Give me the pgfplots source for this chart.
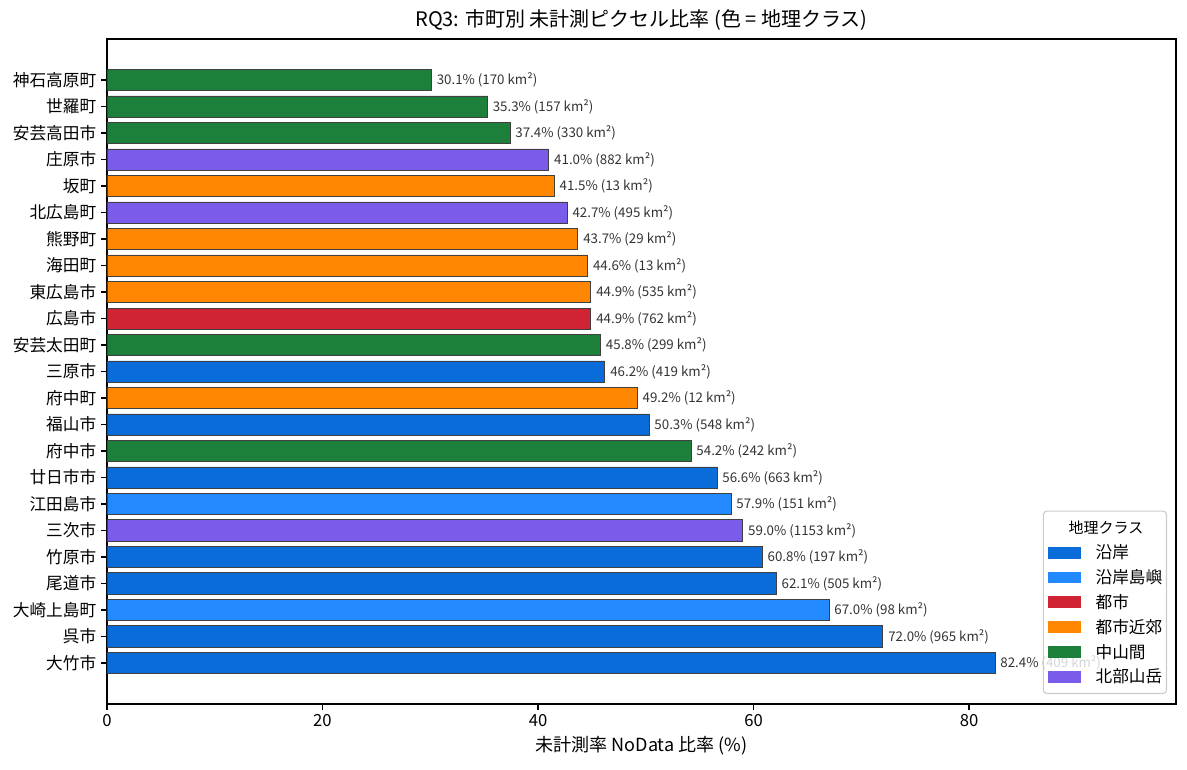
\documentclass[border=0pt]{standalone}
\usepackage{fontspec}
\setmainfont{Noto Sans CJK JP}
\usepackage{pgfplots}
\pgfplotsset{compat=1.18}
\definecolor{cEngan}{HTML}{0A6CD9}
\definecolor{cTosho}{HTML}{2289FF}
\definecolor{cToshi}{HTML}{D02434}
\definecolor{cKinko}{HTML}{FF8600}
\definecolor{cChusan}{HTML}{1C7F3A}
\definecolor{cHokubu}{HTML}{7B5CEA}
\begin{document}
\begin{tikzpicture}
\begin{axis}[
  at={(77pt,46.8pt)}, anchor=south west,
  scale only axis, width=769.7pt, height=478.8pt,
  xmin=0, xmax=99.2, ymin=-1.55, ymax=23.55,
  xbar, bar shift=0pt, bar width=0.8,
  every axis plot/.append style={draw=black!75, line width=0.6pt},
  axis line style={line width=0.96pt},
  xtick={0,20,40,60,80},
  ytick={0,...,22},
  yticklabels={大竹市,呉市,大崎上島町,尾道市,竹原市,三次市,江田島市,廿日市市,府中市,福山市,府中町,三原市,安芸太田町,広島市,東広島市,海田町,熊野町,北広島町,坂町,庄原市,安芸高田市,世羅町,神石高原町},
  tick align=outside, xtick pos=bottom, ytick pos=left,
  major tick length=4.2pt,
  tick style={black, line width=0.96pt},
  tick label style={font=\fontsize{12pt}{14pt}\selectfont},
  /pgf/number format/assume math mode=true,
  title={RQ3: 市町別 未計測ピクセル比率 (色 = 地理クラス)},
  title style={font=\fontsize{14.4pt}{17pt}\selectfont, yshift=-3pt},
  xlabel={未計測率 NoData 比率 (\%)},
  xlabel style={font=\fontsize{13pt}{15pt}\selectfont},
  point meta=explicit symbolic,
  nodes near coords,
  nodes near coords style={font=\fontsize{9.6pt}{11pt}\selectfont, text=black!80, anchor=west, inner sep=0pt, xshift=3.6pt},
  legend image code/.code={\path[#1,draw=none,sharp corners,fill opacity=1] (0pt,-4.3pt) rectangle (23.8pt,4.3pt);},
  legend style={at={(rel axis cs:0.9916,0.015)}, anchor=south east,
    draw=black!20, line width=0.8pt, rounded corners=2.5pt, fill=white, fill opacity=0.8, text opacity=1,
    font=\fontsize{12pt}{14pt}\selectfont, inner sep=3pt, row sep=0pt, column sep=0pt,
    nodes={inner sep=0pt, minimum height=17.9pt}},
  legend cell align=left,
  /tikz/every odd column/.append style={column sep=10.8pt},
]
\addlegendimage{empty legend}
\addlegendentry{\hspace*{-19.4pt}\fontsize{10.8pt}{12pt}\selectfont 地理クラス}
% 沿岸
\addplot[fill=cEngan] coordinates {
  (82.4,0) [82.4\% (409 km²)]
  (72.0,1) [72.0\% (965 km²)]
  (62.1,3) [62.1\% (505 km²)]
  (60.8,4) [60.8\% (197 km²)]
  (56.6,7) [56.6\% (663 km²)]
  (50.3,9) [50.3\% (548 km²)]
  (46.2,11) [46.2\% (419 km²)]
};
\addlegendentry{沿岸}
% 沿岸島嶼
\addplot[fill=cTosho] coordinates {
  (67.0,2) [67.0\% (98 km²)]
  (57.9,6) [57.9\% (151 km²)]
};
\addlegendentry{沿岸島嶼}
% 都市
\addplot[fill=cToshi] coordinates {
  (44.9,13) [44.9\% (762 km²)]
};
\addlegendentry{都市}
% 都市近郊
\addplot[fill=cKinko] coordinates {
  (49.2,10) [49.2\% (12 km²)]
  (44.9,14) [44.9\% (535 km²)]
  (44.6,15) [44.6\% (13 km²)]
  (43.7,16) [43.7\% (29 km²)]
  (41.5,18) [41.5\% (13 km²)]
};
\addlegendentry{都市近郊}
% 中山間
\addplot[fill=cChusan] coordinates {
  (54.2,8) [54.2\% (242 km²)]
  (45.8,12) [45.8\% (299 km²)]
  (37.4,20) [37.4\% (330 km²)]
  (35.3,21) [35.3\% (157 km²)]
  (30.1,22) [30.1\% (170 km²)]
};
\addlegendentry{中山間}
% 北部山岳
\addplot[fill=cHokubu] coordinates {
  (59.0,5) [59.0\% (1153 km²)]
  (42.7,17) [42.7\% (495 km²)]
  (41.0,19) [41.0\% (882 km²)]
};
\addlegendentry{北部山岳}
\end{axis}
\pgfresetboundingbox
\path (0,0) rectangle (854.6pt,553.7pt);
\end{tikzpicture}
\end{document}
